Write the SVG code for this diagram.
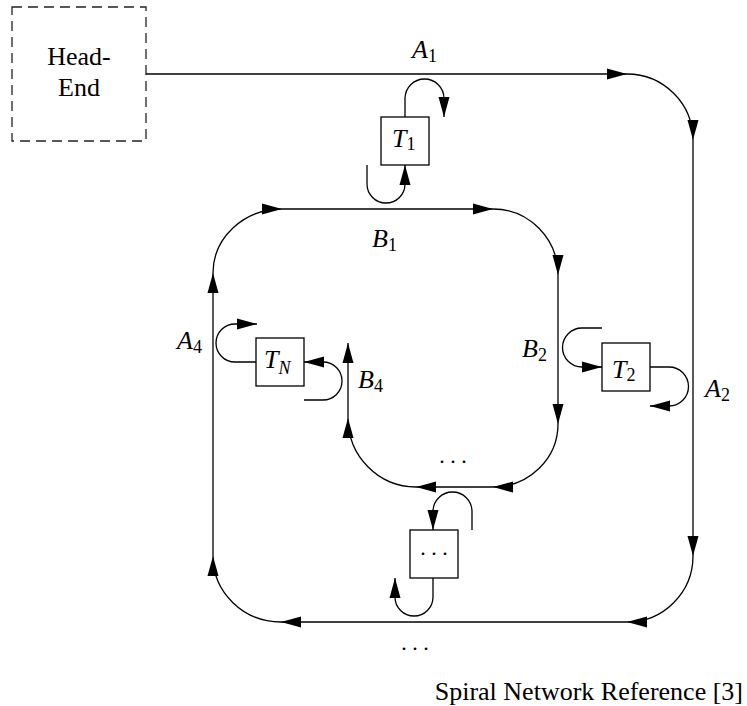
<svg xmlns="http://www.w3.org/2000/svg" width="747" height="706" viewBox="0 0 747 706">
<style>
.ln{fill:none;stroke:#000;stroke-width:1.3}
.ar{marker-end:url(#ah)}
.box{fill:#fff;stroke:#000;stroke-width:1.3}
.dash{fill:#fff;stroke:#222;stroke-width:1.3;stroke-dasharray:10 6}
text{font-family:"Liberation Serif","Times New Roman",serif;font-size:26px;fill:#000}
.it{font-style:italic}
.sub{font-size:18px}
</style>
<defs>
<marker id="ah" markerUnits="userSpaceOnUse" markerWidth="20" markerHeight="11" refX="20" refY="5.5" orient="auto" overflow="visible">
<path d="M0,0 L20,5.5 L0,11 z" fill="#000"/>
</marker>
</defs>
<rect width="747" height="706" fill="#fff"/>
<g id="connectors">
<path class="ln ar" d="M146,74 L627,74"/>
<path class="ln ar" d="M627,74 A66,66 0 0 1 693,140"/>
<path class="ln ar" d="M693,140 L693,556"/>
<path class="ln ar" d="M693,556 A66,66 0 0 1 627,622"/>
<path class="ln ar" d="M627,622 L281,622"/>
<path class="ln ar" d="M281,622 A68,66 0 0 1 213,556"/>
<path class="ln ar" d="M213,556 L213,273"/>
<path class="ln ar" d="M213,273 A69,64 0 0 1 282,209"/>
<path class="ln ar" d="M282,209 L493,209"/>
<path class="ln ar" d="M493,209 A65,66 0 0 1 558,275"/>
<path class="ln ar" d="M558,275 L558,424"/>
<path class="ln ar" d="M558,424 A65,63 0 0 1 493,487"/>
<path class="ln ar" d="M493,487 L416,487"/>
<path class="ln ar" d="M416,487 A68,69 0 0 1 348,418"/>
<path class="ln ar" d="M348,418 L348,343"/>
<path class="ln ar" d="M405,117 L405,98.5 A19.5,19.5 0 0 1 444,98.5 L444,117"/>
<path class="ln ar" d="M367,165 L367,184 A19,19 0 0 0 405,184 L405,165"/>
<path class="ln ar" d="M256,362 L235,362 A19,19 0 0 1 235,324 L257,324"/>
<path class="ln ar" d="M304,400 L323,400 A19,19 0 0 0 323,362 L304,362"/>
<path class="ln ar" d="M602,328 L582,328 A19.5,19.5 0 0 0 582,367 L602,367"/>
<path class="ln ar" d="M650,367 L669,367 A19.5,19.5 0 0 1 669,406 L650,406"/>
<path class="ln ar" d="M472,530 L472,511.5 A19.5,19.5 0 0 0 433,511.5 L433,530"/>
<path class="ln ar" d="M433,578 L433,597 A19,19 0 0 1 395,597 L395,578"/>
</g>
<g id="headend">
<rect class="dash" x="12" y="7" width="134" height="134"/>
<text x="79" y="65" text-anchor="middle">Head-</text>
<text x="79" y="96" text-anchor="middle">End</text>
</g>
<g id="T1">
<rect class="box" x="381" y="117" width="48" height="48"/>
<text x="392" y="147"><tspan class="it">T</tspan><tspan class="sub" dy="3">1</tspan></text>
</g>
<g id="T2">
<rect class="box" x="602" y="343" width="48" height="48"/>
<text x="612" y="378"><tspan class="it">T</tspan><tspan class="sub" dy="3">2</tspan></text>
</g>
<g id="TN">
<rect class="box" x="256" y="338" width="48" height="48"/>
<text x="264" y="368"><tspan class="it">T</tspan><tspan class="sub it" dy="6">N</tspan></text>
</g>
<g id="Tdots">
<rect class="box" x="410" y="530" width="48" height="48"/>
<text x="434" y="555" text-anchor="middle" style="font-size:22px">. . .</text>
</g>
<g id="labels">
<text x="412" y="58"><tspan class="it">A</tspan><tspan class="sub" dy="4">1</tspan></text>
<text x="705" y="397"><tspan class="it">A</tspan><tspan class="sub" dy="4">2</tspan></text>
<text x="177" y="349"><tspan class="it">A</tspan><tspan class="sub" dy="4">4</tspan></text>
<text x="372" y="247"><tspan class="it">B</tspan><tspan class="sub" dy="4">1</tspan></text>
<text x="522" y="357"><tspan class="it">B</tspan><tspan class="sub" dy="4">2</tspan></text>
<text x="358" y="388"><tspan class="it">B</tspan><tspan class="sub" dy="4">4</tspan></text>
<text x="453" y="463" text-anchor="middle" style="font-size:22px">. . .</text>
<text x="415" y="650" text-anchor="middle" style="font-size:22px">. . .</text>
<text x="743" y="700" text-anchor="end">Spiral Network Reference [3]</text>
</g>
</svg>
